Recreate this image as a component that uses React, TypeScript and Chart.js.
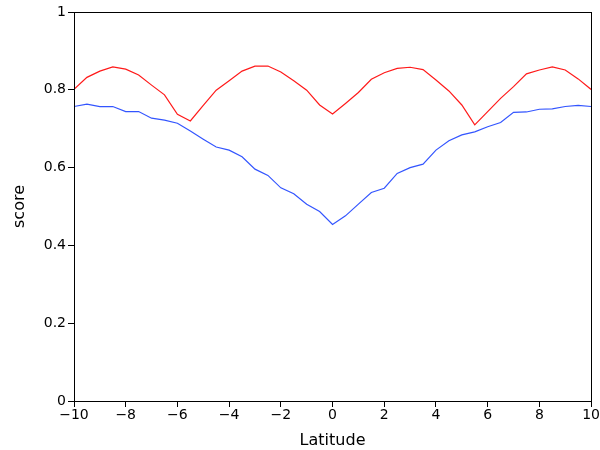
import React, { useEffect, useRef } from "react";
import { Chart, registerables } from "chart.js";

Chart.register(...registerables);

const latitudes: number[] = [
  -10, -9.5, -9, -8.5, -8, -7.5, -7, -6.5, -6, -5.5, -5, -4.5, -4, -3.5, -3, -2.5, -2, -1.5, -1, -0.5,
  0, 0.5, 1, 1.5, 2, 2.5, 3, 3.5, 4, 4.5, 5, 5.5, 6, 6.5, 7, 7.5, 8, 8.5, 9, 9.5, 10,
];

const redScore: number[] = [
  0.801, 0.832, 0.848, 0.859, 0.853, 0.838, 0.812, 0.787, 0.737, 0.72, 0.76, 0.799, 0.823, 0.848,
  0.861, 0.861, 0.846, 0.823, 0.799, 0.761, 0.738, 0.765, 0.793, 0.827, 0.844, 0.855, 0.858, 0.852,
  0.825, 0.797, 0.761, 0.71, 0.744, 0.778, 0.808, 0.841, 0.851, 0.859, 0.851, 0.828, 0.801,
];

const blueScore: number[] = [
  0.757, 0.763, 0.757, 0.757, 0.744, 0.744, 0.727, 0.722, 0.714, 0.694, 0.673, 0.653, 0.645, 0.628,
  0.596, 0.58, 0.548, 0.533, 0.506, 0.487, 0.454, 0.476, 0.506, 0.536, 0.547, 0.585, 0.6, 0.609,
  0.645, 0.669, 0.684, 0.692, 0.705, 0.716, 0.742, 0.743, 0.75, 0.751, 0.757, 0.76, 0.757,
];

const FONT = "'DejaVu Sans', sans-serif";

const frame = {
  id: "frame",
  afterDraw(chart: any) {
    const { ctx, chartArea } = chart;
    ctx.save();
    ctx.strokeStyle = "#000";
    ctx.lineWidth = 1;
    ctx.strokeRect(
      Math.round(chartArea.left) + 0.5,
      Math.round(chartArea.top) + 0.5,
      Math.round(chartArea.right - chartArea.left),
      Math.round(chartArea.bottom - chartArea.top)
    );
    ctx.restore();
  },
};

export default function App() {
  const ref = useRef<HTMLCanvasElement>(null);
  useEffect(() => {
    const toPts = (ys: number[]) => latitudes.map((x, i) => ({ x, y: ys[i] }));
    const chart = new Chart(ref.current!, {
      type: "line",
      data: {
        datasets: [
          {
            data: toPts(redScore),
            borderColor: "#ff1a1a",
            borderWidth: 1.2,
            pointRadius: 0,
            tension: 0,
          },
          {
            data: toPts(blueScore),
            borderColor: "#3355ff",
            borderWidth: 1.2,
            pointRadius: 0,
            tension: 0,
          },
        ],
      },
      options: {
        animation: false,
        responsive: false,
        layout: { padding: { top: 12, right: 7, left: 0, bottom: 0 } },
        plugins: { legend: { display: false }, tooltip: { enabled: false } },
        scales: {
          x: {
            type: "linear",
            min: -10,
            max: 10,
            grid: { drawOnChartArea: false, drawTicks: true, tickLength: 6, color: "#000" },
            border: { color: "#000" },
            ticks: {
              stepSize: 2,
              color: "#000",
              font: { family: FONT, size: 14 },
              padding: 0,
              maxRotation: 0,
              callback: (v: any) => String(v).replace("-", "\u2212"),
            },
            title: {
              display: true,
              text: "Latitude",
              color: "#000",
              font: { family: FONT, size: 16 },
              padding: { top: 2, bottom: 0 },
            },
            afterFit: (s: any) => {
              s.height = 49;
            },
          },
          y: {
            min: 0,
            max: 1,
            grid: { drawOnChartArea: false, drawTicks: true, tickLength: 6, color: "#000" },
            border: { color: "#000" },
            ticks: {
              stepSize: 0.2,
              color: "#000",
              font: { family: FONT, size: 14 },
              padding: 2,
              callback: (v: any) => String(Math.round(v * 10) / 10),
            },
            title: {
              display: true,
              text: "score",
              color: "#000",
              font: { family: FONT, size: 16 },
              padding: { top: 10, bottom: 2 },
            },
            afterFit: (s: any) => {
              s.width = 74;
            },
          },
        },
      },
      plugins: [frame],
    });
    return () => chart.destroy();
  }, []);
  return (
    <div style={{ position: "fixed", left: 0, top: 0, width: 600, height: 450, background: "#fff" }}>
      <canvas ref={ref} width={600} height={450} />
    </div>
  );
}
